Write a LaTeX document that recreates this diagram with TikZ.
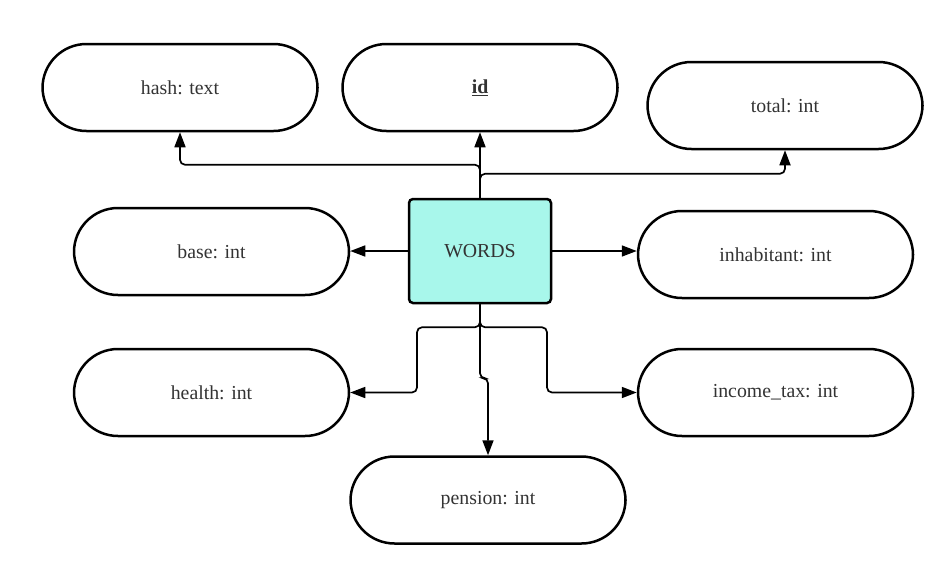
\documentclass[tikz,border=0pt]{standalone}
\usepackage{fontspec}
\setmainfont{Liberation Serif}
\usetikzlibrary{arrows.meta}
\definecolor{wordsfill}{RGB}{168,247,235}
\definecolor{labelgray}{RGB}{51,51,51}

\begin{document}
\begin{tikzpicture}[x=1pt, y=-1pt,
	attr/.style={draw, line width=2.5pt, rounded corners=44pt, minimum width=275pt, minimum height=87pt, text=labelgray, font=\fontsize{19.8}{24}\selectfont},
	entity/.style={draw, line width=2.5pt, rounded corners=4pt, fill=wordsfill, minimum width=142pt, minimum height=104pt, text=labelgray, font=\fontsize{19.8}{24}\selectfont},
	link/.style={line width=1.7pt, rounded corners=5pt, -{Triangle[length=15pt,width=11pt]}}]
	\useasboundingbox (0,0) rectangle (944,565);

	\node[entity] (words) at (480,251) {WORDS};

	\node[attr] (hash) at (180,87.5) {hash: text};
	\node[attr] (id) at (480,87.5) {\textbf{\underline{id}}};
	\node[attr] (total) at (785,105.5) {total: int};
	\node[attr] (base) at (211.5,251.5) {base: int};
	\node[attr] (inhab) at (775.5,254.5) {inhabitant: int};
	\node[attr] (health) at (211.5,392.5) {health: int};
	\node[attr] (income) at (775.5,392.5) {income\_tax: int};
	\node[attr] (pension) at (488,500) {pension: int};

	\draw[link] (words.north) -- ++(0,-33) -| (hash.south);
	\draw[link] (words.north) -- (id.south);
	\draw[link] (words.north) -- ++(0,-24) -| (total.south);
	\draw[link] (words.west) -- (words.west -| base.east);
	\draw[link] (words.east) -- (words.east -| inhab.west);
	\draw[link] (words.south) -- ++(0,23) -- ++(-63,0) |- (health.east);
	\draw[link] (words.south) -- ++(0,23) -- ++(67,0) |- (income.west);
	\draw[link] (words.south) -- ++(0,74) -- ++(8,0) -- (pension.north);
\end{tikzpicture}
\end{document}
